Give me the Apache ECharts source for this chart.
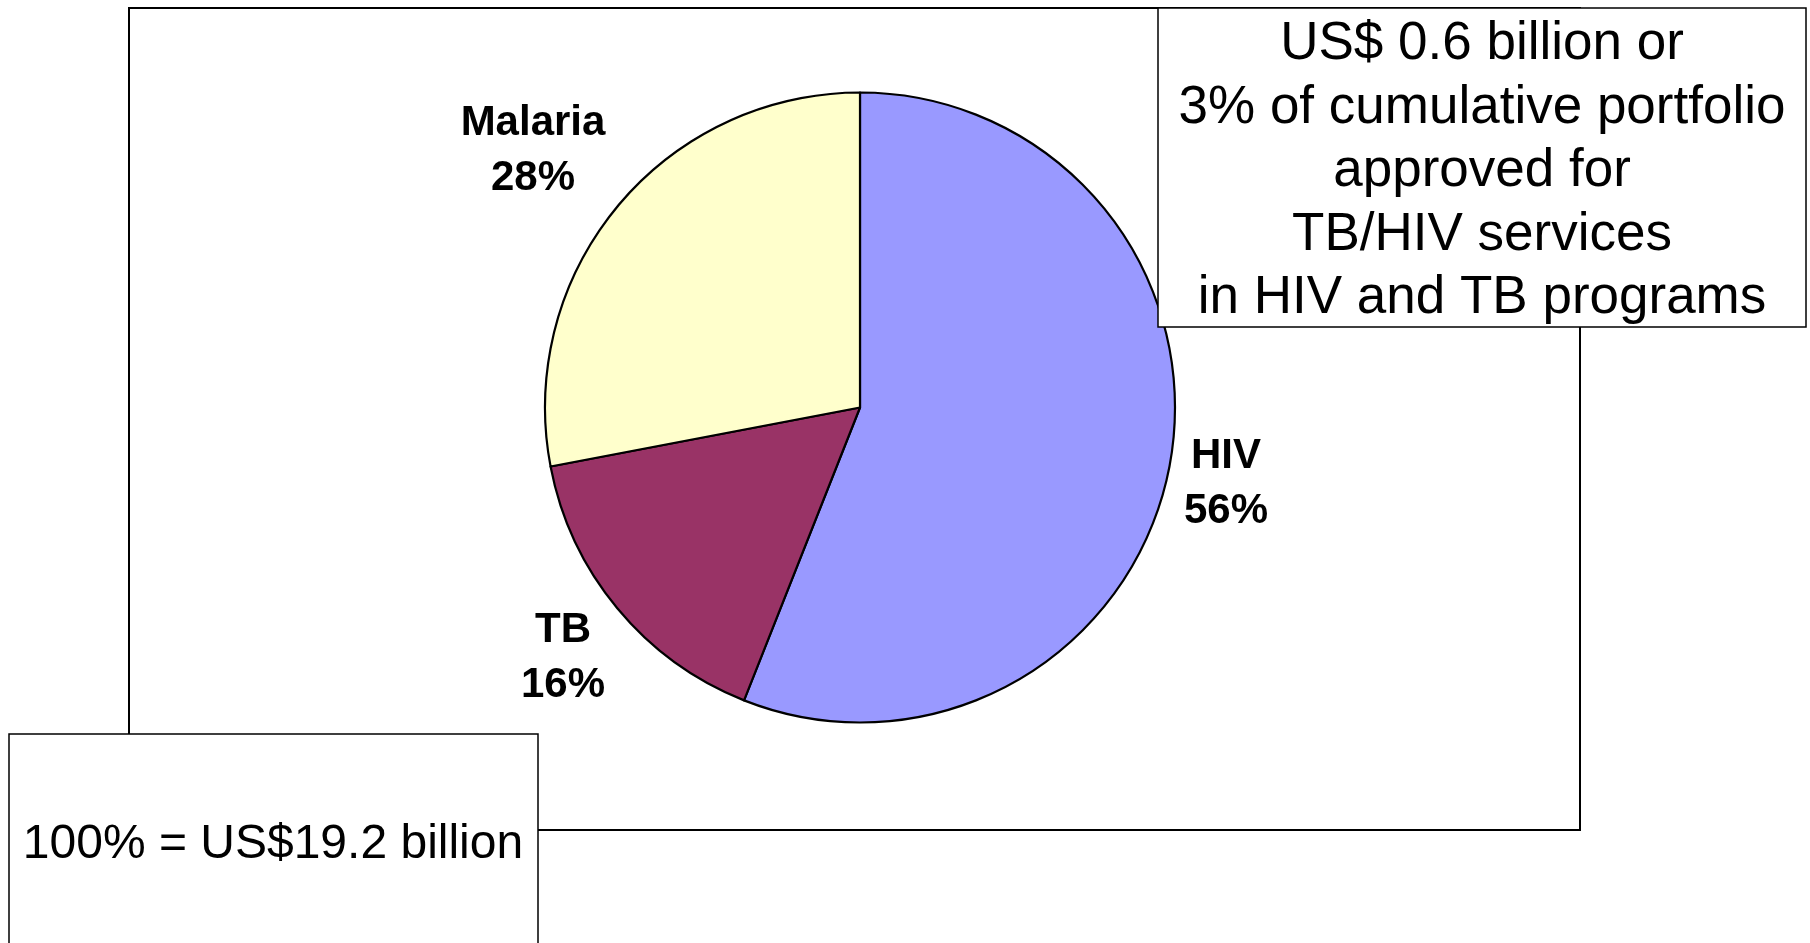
<!DOCTYPE html>
<html>
<head>
<meta charset="utf-8">
<script src="https://cdn.jsdelivr.net/npm/echarts@6/dist/echarts.min.js"></script>
<style>
html,body{margin:0;padding:0;background:#fff;}
#chart{width:1810px;height:943px;}
</style>
</head>
<body>
<div id="chart"></div>
<script>
// Data
const categories = ['HIV', 'TB', 'Malaria'];
const shares = [56, 16, 28];
const sliceColors = ['#9999FF', '#993366', '#FFFFCC'];
const noteLines = ['US$ 0.6 billion or', '3% of cumulative portfolio', 'approved for', 'TB/HIV services', 'in HIV and TB programs'];
const totalNote = '100% = US$19.2 billion';

// Label placement (centre of each two-line label)
const labelPos = [[1226, 484], [563, 658], [533, 151]];

const chart = echarts.init(document.getElementById('chart'));
const FONT = '"Liberation Sans", Arial, sans-serif';

chart.setOption({
  backgroundColor: '#ffffff',
  animation: false,
  graphic: [
    { type: 'rect', z: 0, shape: { x: 129, y: 8, width: 1451, height: 822 },
      style: { fill: 'none', stroke: '#000', lineWidth: 2 } },
    { type: 'rect', z: 10, shape: { x: 1158, y: 8, width: 648, height: 319 },
      style: { fill: '#fff', stroke: '#000', lineWidth: 1.5 } },
    { type: 'text', z: 11, x: 1482, y: 13,
      style: { text: noteLines.join('\n'), font: '53px ' + FONT, fill: '#000',
               align: 'center', verticalAlign: 'top', lineHeight: 63.5 } },
    { type: 'rect', z: 10, shape: { x: 9, y: 734, width: 529, height: 230 },
      style: { fill: '#fff', stroke: '#000', lineWidth: 1.5 } },
    { type: 'text', z: 11, x: 273, y: 845,
      style: { text: totalNote, font: '48px ' + FONT, fill: '#000',
               align: 'center', verticalAlign: 'middle' } }
  ],
  series: [{
    type: 'pie',
    z: 2,
    center: [860, 407.5],
    radius: 315,
    startAngle: 90,
    clockwise: true,
    data: categories.map((c, i) => ({ name: c, value: shares[i], itemStyle: { color: sliceColors[i] } })),
    itemStyle: { borderColor: '#000', borderWidth: 2.2 },
    label: {
      show: true,
      position: 'outside',
      formatter: p => p.name + '\n' + p.value + '%',
      fontFamily: FONT,
      fontWeight: 'bold',
      fontSize: 42,
      lineHeight: 55,
      color: '#000',
      align: 'center'
    },
    labelLine: { show: false },
    labelLayout: function (params) {
      const pos = labelPos[params.dataIndex];
      return { x: pos[0], y: pos[1], align: 'center', verticalAlign: 'middle' };
    },
    emphasis: { disabled: true }
  }]
});
</script>
</body>
</html>
